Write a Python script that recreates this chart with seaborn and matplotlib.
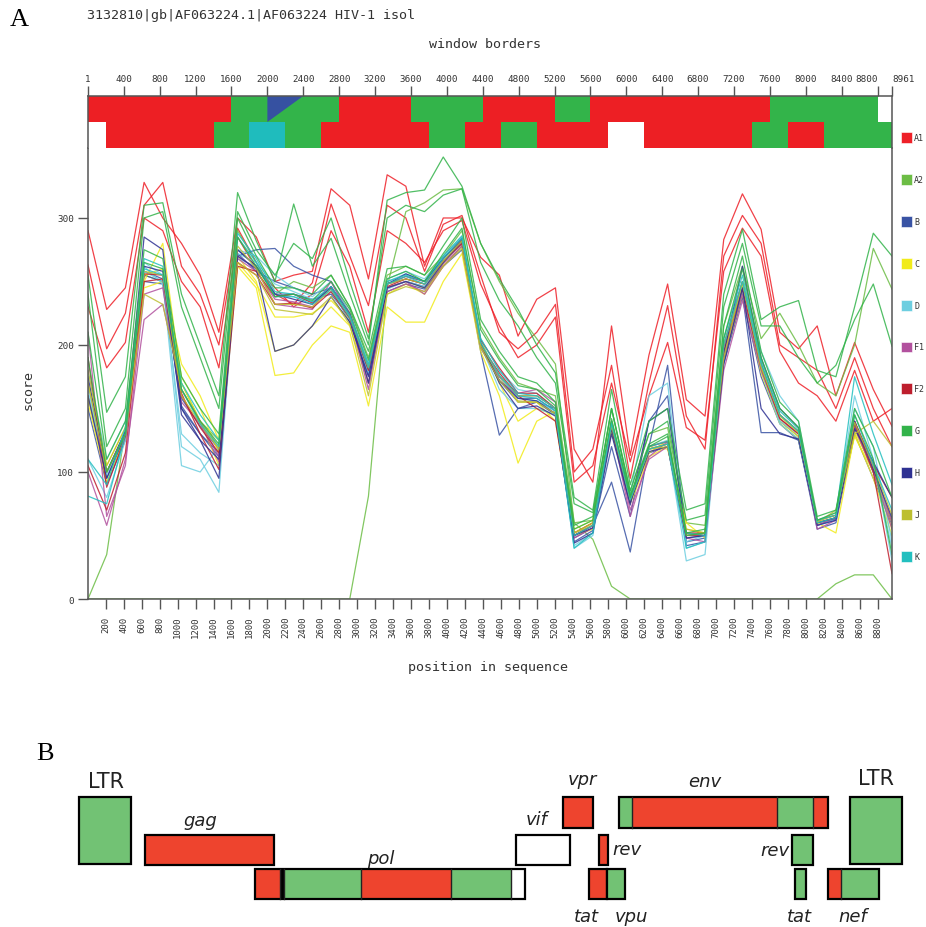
import numpy as np
import pandas as pd
import matplotlib
matplotlib.use("Agg")
import matplotlib.pyplot as plt
import seaborn as sns

# ---- panel A data -------------------------------------------------------
# 44 sliding windows from 1 to 8961
window_pos = np.linspace(1, 8961, 44)

A1_a = [290, 228, 245, 328, 300, 280, 255, 210, 300, 285, 250, 255, 258, 323, 310, 252, 334, 325, 262, 300, 300, 269,
        255, 207, 236, 245, 118, 92, 215, 113, 192, 248, 157, 144, 283, 319, 291, 210, 197, 215, 160, 202, 165, 136]
A1_b = [263, 197, 225, 310, 328, 262, 240, 200, 292, 265, 240, 232, 249, 311, 270, 231, 310, 300, 258, 295, 302, 255,
        210, 197, 210, 232, 100, 118, 184, 95, 170, 231, 144, 118, 270, 302, 280, 200, 190, 180, 150, 190, 150, 120]
A1_c = [230, 182, 202, 300, 290, 250, 230, 182, 285, 260, 245, 230, 240, 290, 262, 210, 290, 280, 265, 290, 298, 248,
        215, 190, 200, 222, 92, 105, 170, 108, 160, 202, 135, 125, 258, 292, 270, 195, 170, 160, 140, 180, 140, 150]
A2_a = [0, 35, 135, 255, 250, 170, 140, 125, 290, 265, 240, 250, 245, 255, 230, 190, 255, 262, 255, 270, 290, 215,
        190, 170, 165, 160, 60, 62, 150, 85, 130, 135, 60, 58, 215, 262, 205, 225, 200, 170, 160, 200, 276, 244]
A2_b = [0, 0, 0, 0, 0, 0, 0, 0, 0, 0, 0, 0, 0, 0, 0, 81, 246, 305, 312, 322, 323, 280,
        250, 225, 205, 185, 60, 47, 10, 0, 0, 0, 0, 0, 0, 0, 0, 0, 0, 0, 12, 19, 19, 0]
G_a = [255, 147, 175, 310, 312, 240, 200, 160, 320, 282, 250, 311, 262, 284, 240, 200, 314, 320, 322, 348, 325, 280,
       252, 228, 200, 178, 80, 70, 165, 90, 140, 150, 70, 75, 240, 291, 220, 230, 235, 180, 175, 230, 288, 270]
G_b = [240, 120, 150, 300, 305, 230, 190, 150, 305, 275, 255, 280, 268, 300, 250, 205, 300, 310, 305, 318, 323, 265,
       235, 215, 190, 170, 75, 68, 150, 85, 130, 140, 62, 66, 230, 280, 215, 215, 190, 170, 184, 220, 248, 199]
G_c = [210, 110, 140, 275, 268, 175, 150, 130, 300, 270, 245, 245, 240, 255, 230, 195, 260, 262, 255, 278, 300, 220,
       195, 175, 170, 155, 58, 65, 150, 82, 122, 130, 52, 55, 215, 270, 195, 155, 140, 65, 70, 150, 120, 80]
G_d = [190, 100, 130, 265, 260, 165, 140, 122, 285, 262, 238, 240, 235, 250, 228, 188, 252, 258, 250, 272, 292, 212,
       188, 168, 165, 152, 55, 62, 142, 80, 120, 128, 50, 52, 205, 260, 190, 150, 135, 62, 68, 145, 110, 35]
B_a = [160, 95, 128, 255, 250, 150, 130, 115, 270, 275, 276, 262, 255, 250, 225, 180, 245, 250, 246, 262, 278, 195,
       129, 150, 155, 150, 50, 58, 92, 37, 120, 184, 45, 48, 190, 240, 131, 131, 125, 58, 63, 135, 100, 60]
B_b = [170, 100, 132, 258, 252, 158, 136, 118, 275, 262, 240, 240, 236, 240, 222, 178, 248, 252, 248, 265, 280, 200,
       175, 158, 158, 148, 48, 56, 132, 76, 115, 120, 48, 50, 198, 245, 180, 140, 128, 58, 64, 136, 100, 62]
B_c = [150, 90, 125, 250, 248, 152, 130, 112, 272, 258, 250, 245, 240, 245, 218, 176, 242, 248, 244, 262, 275, 198,
       172, 155, 155, 145, 45, 54, 120, 65, 140, 160, 42, 45, 185, 238, 175, 138, 125, 55, 60, 130, 95, 58]
C_a = [160, 100, 130, 250, 280, 170, 140, 105, 262, 245, 176, 178, 200, 215, 210, 152, 230, 218, 218, 250, 272, 195,
       160, 107, 140, 148, 55, 62, 140, 80, 120, 118, 60, 48, 190, 245, 180, 142, 130, 60, 52, 130, 95, 50]
C_b = [170, 105, 135, 255, 260, 175, 150, 115, 270, 250, 195, 200, 215, 230, 215, 170, 240, 248, 240, 262, 278, 205,
       170, 140, 150, 145, 52, 60, 138, 78, 115, 125, 55, 52, 195, 248, 182, 140, 128, 62, 66, 128, 100, 55]
C_c = [155, 92, 128, 245, 250, 185, 160, 125, 265, 248, 222, 222, 225, 235, 220, 182, 245, 250, 245, 264, 282, 200,
       175, 155, 155, 140, 50, 55, 132, 75, 112, 120, 52, 50, 188, 240, 178, 138, 126, 60, 64, 132, 102, 60]
D_a = [180, 110, 140, 265, 255, 120, 110, 84, 275, 270, 255, 245, 238, 250, 225, 185, 252, 258, 252, 270, 285, 205,
       180, 165, 162, 150, 42, 52, 140, 82, 160, 170, 40, 45, 205, 250, 195, 160, 140, 60, 62, 150, 120, 45]
D_b = [165, 98, 130, 258, 250, 105, 100, 120, 272, 265, 248, 242, 236, 245, 220, 182, 250, 256, 250, 268, 282, 200,
       165, 150, 150, 145, 50, 58, 138, 80, 120, 125, 45, 50, 200, 245, 186, 140, 130, 62, 68, 160, 110, 30]
D_c = [110, 80, 125, 262, 248, 130, 115, 105, 268, 262, 240, 238, 234, 242, 220, 178, 244, 250, 246, 266, 280, 198,
       175, 158, 156, 148, 40, 50, 135, 78, 118, 122, 30, 35, 195, 242, 180, 138, 126, 58, 62, 138, 108, 40]
F1_a = [100, 58, 110, 220, 232, 165, 140, 112, 270, 260, 232, 230, 228, 250, 222, 165, 245, 250, 240, 262, 278, 198,
        172, 160, 160, 150, 48, 56, 138, 70, 110, 120, 48, 45, 180, 235, 180, 142, 130, 55, 62, 135, 100, 55]
F1_b = [210, 65, 105, 240, 245, 155, 138, 108, 268, 258, 236, 234, 230, 246, 224, 170, 242, 248, 242, 264, 280, 200,
        175, 162, 165, 155, 50, 58, 136, 65, 112, 124, 52, 50, 190, 240, 185, 145, 132, 58, 64, 140, 104, 60]
F2_a = [105, 70, 115, 250, 252, 160, 135, 115, 265, 255, 232, 233, 229, 242, 221, 180, 246, 252, 248, 266, 280, 200,
        178, 160, 150, 140, 50, 58, 135, 78, 118, 122, 50, 50, 195, 244, 182, 142, 130, 60, 64, 138, 100, 20]
F2_b = [190, 88, 128, 256, 255, 162, 130, 102, 262, 258, 238, 240, 233, 245, 225, 182, 248, 254, 250, 268, 283, 204,
        182, 162, 162, 150, 52, 60, 138, 80, 120, 124, 52, 52, 200, 250, 185, 145, 132, 62, 66, 140, 106, 80]
H_a = [160, 95, 130, 262, 258, 145, 125, 110, 270, 260, 195, 200, 215, 238, 218, 175, 245, 250, 245, 265, 282, 200,
       172, 158, 156, 146, 50, 56, 134, 76, 116, 120, 48, 50, 192, 262, 190, 150, 135, 60, 64, 140, 102, 64]
H_b = [175, 100, 132, 285, 275, 150, 125, 95, 275, 262, 240, 236, 232, 246, 224, 170, 248, 256, 250, 268, 284, 202,
       170, 150, 152, 144, 44, 52, 130, 74, 140, 150, 50, 52, 185, 245, 150, 130, 126, 58, 62, 134, 108, 80]
J_a = [170, 100, 130, 240, 232, 165, 140, 120, 265, 255, 228, 226, 224, 238, 216, 160, 240, 246, 242, 262, 276, 198,
       172, 156, 155, 146, 52, 58, 140, 80, 118, 120, 55, 52, 190, 250, 182, 145, 132, 60, 70, 130, 140, 120]
J_b = [180, 105, 135, 258, 255, 160, 138, 118, 278, 260, 232, 232, 230, 244, 222, 182, 248, 252, 248, 266, 282, 200,
       176, 160, 160, 150, 52, 60, 136, 78, 118, 122, 50, 52, 200, 249, 184, 144, 131, 61, 66, 139, 105, 66]
K_a = [81, 75, 130, 268, 262, 165, 138, 120, 288, 268, 242, 240, 234, 246, 224, 185, 250, 255, 250, 270, 286, 205,
       180, 162, 160, 150, 50, 58, 140, 80, 120, 124, 52, 50, 205, 255, 188, 148, 134, 62, 66, 175, 130, 90]
K_b = [110, 90, 135, 260, 255, 170, 145, 125, 285, 265, 238, 238, 232, 244, 222, 182, 248, 254, 248, 268, 284, 202,
       176, 160, 158, 148, 40, 52, 138, 78, 118, 122, 40, 45, 200, 250, 185, 145, 132, 60, 64, 145, 106, 70]

series = [("A1", A1_a), ("A1", A1_b), ("A1", A1_c), ("A2", A2_a), ("A2", A2_b),
          ("B", B_a), ("B", B_b), ("B", B_c), ("C", C_a), ("C", C_b), ("C", C_c),
          ("D", D_a), ("D", D_b), ("D", D_c), ("F1", F1_a), ("F1", F1_b), ("F2", F2_a), ("F2", F2_b),
          ("H", H_a), ("H", H_b), ("J", J_a), ("J", J_b), ("K", K_a), ("K", K_b),
          ("G", G_a), ("G", G_b), ("G", G_c), ("G", G_d)]

subtypes = ["A1", "A2", "B", "C", "D", "F1", "F2", "G", "H", "J", "K"]
sub_colors = ["#ee2028", "#6cbd45", "#3953a4", "#f1eb1a", "#6dcee0", "#b2519e",
              "#be1e2d", "#32b34a", "#2e3192", "#bdbf31", "#22bfbf"]
palette = dict(zip(subtypes, sub_colors))

# window-border band (best-hit subtype per segment)
band1_edges = [1, 1600, 2800, 3600, 4400, 5200, 5600, 7600, 8800, 8961]
band1_types = ["A1", "G", "A1", "G", "A1", "G", "A1", "G", None]
band1_tri = (2000, 2400, "B")
band2_edges = [1, 200, 1400, 1800, 2200, 2600, 3800, 4200, 4600, 5000, 5800, 6200, 7400, 7800, 8200, 8961]
band2_types = [None, "A1", "G", "K", "G", "A1", "G", "A1", "G", "A1", None, "A1", "G", "A1", "G"]
band_colors = {"A1": "#ed1f24", "G": "#33b44a", "B": "#3651a1", "K": "#1fbcbd"}

top_ticks = [1] + list(range(400, 8801, 400)) + [8961]
bottom_ticks = list(range(200, 8801, 200))
score_ticks = [0, 100, 200, 300]

# ---- panel B data (positions along the genome map) ----------------------
gene_names = ["LTR5", "gag", "pol", "vif", "vpr", "rev1", "tat1", "vpu", "env", "rev2", "tat2", "nef", "LTR3"]
gene_rows = ["ltr", "mid", "low", "mid", "top", "mid", "low", "low", "top", "mid", "low", "low", "ltr"]
gene_segments = [
    [(79, 131, "G")],
    [(145, 274, "R")],
    [(255, 280, "R"), (280, 284, "K"), (284, 361, "G"), (361, 451, "R"), (451, 511, "G"), (511, 525, "W")],
    [(516, 570, "W")],
    [(563, 593, "R")],
    [(599, 608, "R")],
    [(589, 607, "R")],
    [(607, 625, "G")],
    [(619, 632, "G"), (632, 777, "R"), (777, 813, "G"), (813, 828, "R")],
    [(792, 813, "G")],
    [(795, 806, "G")],
    [(828, 841, "R"), (841, 879, "G")],
    [(850, 902, "G")],
]
seg_colors = {"G": "#72c274", "R": "#ee442e", "W": "white", "K": "black"}
row_top = {"ltr": 798, "top": 798, "mid": 836, "low": 870}
row_height = {"ltr": 67, "top": 31, "mid": 30, "low": 30}

gene_labels = [("LTR", 106, 782, "center", False), ("gag", 200, 821, "center", True),
               ("pol", 381, 859, "center", True), ("vif", 537, 820, "center", True),
               ("vpr", 582, 780, "center", True), ("rev", 612, 850, "left", True),
               ("env", 705, 782, "center", True), ("LTR", 876, 779, "center", False),
               ("rev", 789, 851, "right", True), ("tat", 586, 917, "center", True),
               ("vpu", 631, 917, "center", True), ("tat", 799, 917, "center", True),
               ("nef", 853, 917, "center", True)]

# ---- build figure --------------------------------------------------------
W, H = 926, 928


def box(x0, y0, x1, y1):
    return [x0 / W, 1 - y1 / H, (x1 - x0) / W, (y1 - y0) / H]


mono = "DejaVu Sans Mono"
ink = "#333333"
fig = plt.figure(figsize=(W / 100, H / 100), dpi=100)

rows = []
for i, (st, vals) in enumerate(series):
    for p, v in zip(window_pos, vals):
        rows.append({"seq": i, "subtype": st, "pos": p, "score": v})
df = pd.DataFrame(rows)

ax = fig.add_axes(box(88, 149, 892, 600))
sns.lineplot(data=df, x="pos", y="score", hue="subtype", units="seq", estimator=None,
             palette=palette, linewidth=0.9, alpha=0.85, legend=False, sort=False, ax=ax)
ax.set_xlim(1, 8961)
ax.set_ylim(0, 355.1)
ax.spines["top"].set_visible(False)
for s in ["left", "bottom", "right"]:
    ax.spines[s].set_color("#555555")
    ax.spines[s].set_linewidth(1.1)
ax.set_xticks(bottom_ticks)
ax.set_xticklabels([str(t) for t in bottom_ticks], rotation=90, fontfamily=mono, fontsize=6.5, color=ink)
ax.set_yticks(score_ticks)
ax.set_yticklabels([str(t) for t in score_ticks], fontfamily=mono, fontsize=6.7, color=ink)
ax.tick_params(axis="x", length=7, width=1, pad=5, color="#555555")
ax.tick_params(axis="y", length=7, width=1, pad=3, color="#555555")
ax.set_xlabel("")
ax.set_ylabel("")

# band of window borders
axb = fig.add_axes(box(88, 97, 892, 149))
for s, e, t in zip(band1_edges[:-1], band1_edges[1:], band1_types):
    if t:
        axb.barh(0.5, e - s, left=s, height=1, color=band_colors[t], linewidth=0)
axb.fill([band1_tri[0], band1_tri[1], band1_tri[0]], [0, 0, 1], color=band_colors[band1_tri[2]], linewidth=0)
for s, e, t in zip(band2_edges[:-1], band2_edges[1:], band2_types):
    if t:
        axb.barh(1.5, e - s, left=s, height=1, color=band_colors[t], linewidth=0)
axb.set_xlim(1, 8961)
axb.set_ylim(2, 0)
axb.spines["bottom"].set_visible(False)
for s in ["left", "top", "right"]:
    axb.spines[s].set_color("#555555")
    axb.spines[s].set_linewidth(1.1)
axb.xaxis.tick_top()
axb.set_xticks(top_ticks)
axb.set_xticklabels([str(t) for t in top_ticks], fontfamily=mono, fontsize=6.7, color=ink)
axb.get_xticklabels()[-1].set_horizontalalignment("left")
axb.get_xticklabels()[-2].set_horizontalalignment("right")
axb.tick_params(axis="x", length=7, width=1, pad=2, color="#555555")
axb.set_yticks([])

# legend column
axl = fig.add_axes(box(898, 118, 926, 578))
axl.scatter([0.3] * len(subtypes), range(len(subtypes)), marker="s", s=62, c=sub_colors,
            edgecolors="white", linewidths=0.4)
for i, st in enumerate(subtypes):
    axl.text(0.58, i, st, fontfamily=mono, fontsize=6.0, color=ink, va="center", ha="left", clip_on=False)
axl.set_xlim(0, 1)
axl.set_ylim(len(subtypes) - 0.5, -0.5)
axl.axis("off")

fig.text(10 / W, 1 - 20 / H, "A", fontfamily="Liberation Serif", fontsize=19, va="center", ha="left")
fig.text(87 / W, 1 - 15 / H, "3132810|gb|AF063224.1|AF063224 HIV-1 isol", fontfamily=mono,
         fontsize=9.6, color=ink, va="center", ha="left")
fig.text(485 / W, 1 - 45 / H, "window borders", fontfamily=mono, fontsize=9.6, color=ink, va="center", ha="center")
fig.text(488 / W, 1 - 668 / H, "position in sequence", fontfamily=mono, fontsize=9.6, color=ink,
         va="center", ha="center")
fig.text(28 / W, 1 - 390 / H, "score", fontfamily=mono, fontsize=9.6, color=ink, rotation=90,
         va="center", ha="center")

# ---- panel B -------------------------------------------------------------
axg = fig.add_axes(box(0, 730, 926, 928))
axg.set_xlim(0, W)
axg.set_ylim(928, 730)
axg.axis("off")
for name, row, segs in zip(gene_names, gene_rows, gene_segments):
    y = row_top[row] + row_height[row] / 2
    for s, e, c in segs:
        axg.barh(y, e - s, left=s, height=row_height[row], color=seg_colors[c], linewidth=0)
    axg.barh(y, segs[-1][1] - segs[0][0], left=segs[0][0], height=row_height[row], fill=False,
             edgecolor="black", linewidth=1.6)
    if len(segs) > 1:
        for s, e, c in segs[1:]:
            axg.plot([s, s], [row_top[row], row_top[row] + row_height[row]], color="#222222", lw=1.0)
for txt, x, y, ha, ital in gene_labels:
    axg.text(x, y, txt, ha=ha, va="center", fontsize=13 if ital else 15,
             fontstyle="oblique" if ital else "normal", fontfamily="DejaVu Sans", color="#222222")
fig.text(36 / W, 1 - 754 / H, "B", fontfamily="Liberation Serif", fontsize=19, va="center", ha="left")

fig.savefig("out.png", dpi=100)
